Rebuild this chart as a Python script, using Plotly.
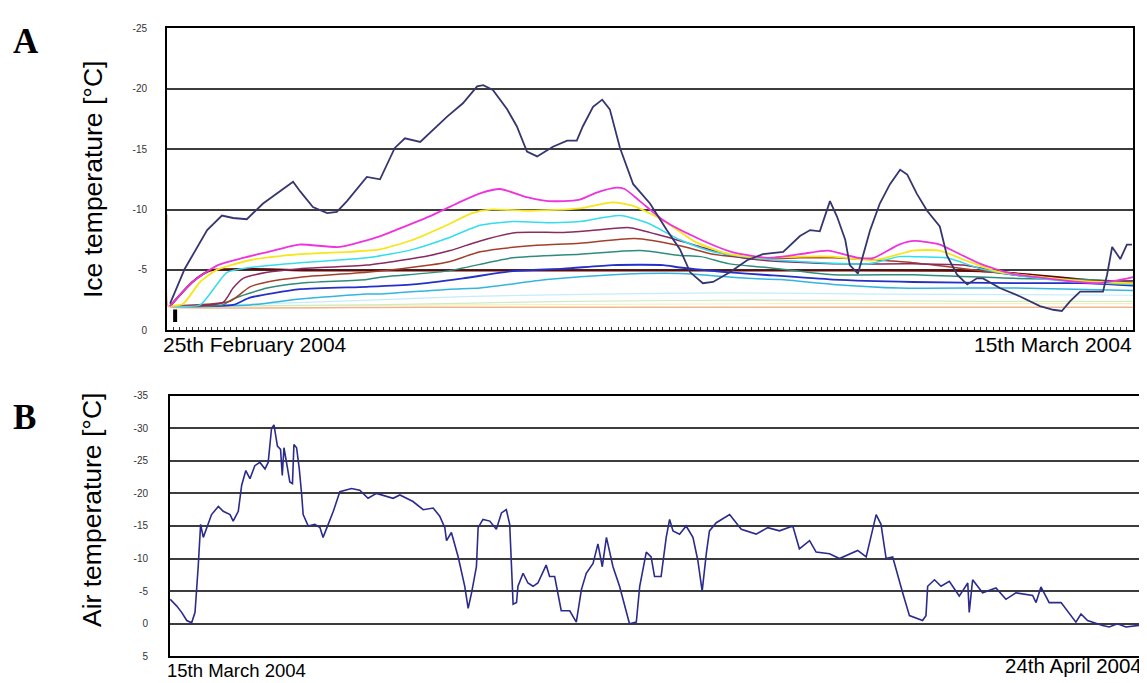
import plotly.graph_objects as go

# ---------------- Panel A: ice temperature (x = days since 25 Feb 2004) ----------------
surface_days = [0.06, 0.35, 0.79, 1.08, 1.30, 1.57, 1.89, 2.22, 2.48, 2.62, 2.87, 3.15, 3.34, 3.54,
                3.93, 4.19, 4.48, 4.68, 4.98, 5.51, 5.82, 6.10, 6.22, 6.41, 6.69, 6.88, 7.08, 7.28,
                7.59, 7.87, 8.06, 8.18, 8.38, 8.56, 8.71, 8.91, 9.17, 9.50, 9.83, 10.09, 10.29,
                10.54, 10.74, 11.07, 11.41, 11.72, 12.12, 12.45, 12.65, 12.84, 13.04, 13.18, 13.34,
                13.43, 13.59, 13.69, 13.83, 14.02, 14.22, 14.42, 14.56, 14.75, 14.95, 15.20, 15.34,
                15.54, 15.74, 15.93, 16.05, 16.38, 16.78, 17.17, 17.43, 17.60, 17.76, 17.96, 18.41,
                18.49, 18.59, 18.75, 18.88, 18.98]
surface_vals = [-2.2, -5.1, -8.3, -9.5, -9.3, -9.2, -10.5, -11.5, -12.3, -11.5, -10.2, -9.7, -9.8, -10.7,
                -12.7, -12.5, -15.1, -15.9, -15.6, -17.7, -18.8, -20.2, -20.3, -19.9, -18.3, -16.9, -14.8,
                -14.4, -15.2, -15.7, -15.7, -16.9, -18.5, -19.1, -18.3, -15.1, -12.1, -10.5, -8.3, -6.7,
                -4.8, -3.9, -4.0, -4.8, -5.8, -6.3, -6.5, -7.8, -8.3, -8.2, -10.7, -9.4, -7.5,
                -5.4, -4.7, -6.2, -8.3, -10.5, -12.1, -13.3, -12.9, -11.3, -9.9, -8.6, -6.2,
                -4.6, -3.8, -4.3, -4.3, -3.5, -2.8, -2.0, -1.7, -1.6, -2.4, -3.2, -3.2,
                -4.6, -6.9, -5.9, -7.1, -7.1]

magenta_days = [0.06, 0.5, 1.0, 1.5, 2.0, 2.6, 3.4, 4.2, 4.5, 5.2, 5.8, 6.2, 6.55, 7.1, 7.5, 8.1, 8.45,
                8.8, 9.0, 9.3, 9.8, 10.5, 11.1, 11.8, 12.45, 13.0, 13.6, 13.9, 14.4, 14.7, 15.2, 15.5,
                16.0, 16.6, 17.3, 18.3, 18.9, 19.0]
magenta_vals = [-2.0, -4.0, -5.4, -6.0, -6.5, -7.1, -6.9, -7.8, -8.3, -9.5, -10.7, -11.4, -11.7, -11.0,
                -10.7, -10.8, -11.4, -11.8, -11.7, -10.7, -9.0, -7.5, -6.5, -6.0, -6.3, -6.6, -6.0, -6.0,
                -7.1, -7.4, -7.1, -6.5, -5.5, -4.7, -4.3, -3.9, -4.3, -4.4]

yellow_days = [0.06, 0.32, 0.65, 0.98, 1.63, 2.62, 3.6, 4.19, 4.84, 5.5, 6.0, 6.35, 7.14, 8.12, 8.77,
               9.17, 9.76, 10.4, 11.07, 11.7, 12.45, 13.1, 13.9, 14.4, 14.67, 15.2, 15.7, 16.3, 17.0,
               18.0, 19.0]
yellow_vals = [-2.0, -2.2, -4.0, -5.0, -5.8, -6.3, -6.5, -6.7, -7.5, -8.7, -9.7, -10.0, -9.9, -10.1,
               -10.6, -10.3, -9.1, -7.3, -6.3, -6.0, -6.1, -6.1, -5.8, -6.3, -6.6, -6.6, -5.8, -4.9,
               -4.5, -4.1, -3.9]

cyan_days = [0.06, 0.65, 0.98, 1.18, 1.63, 2.62, 3.93, 4.84, 5.5, 6.16, 6.8, 7.59, 8.12, 8.91, 9.44,
             10.09, 10.74, 11.72, 12.45, 13.8, 14.4, 14.67, 15.34, 16.0, 16.64, 17.6, 19.0]
cyan_vals = [-2.0, -2.1, -3.8, -4.8, -5.2, -5.6, -6.0, -6.7, -7.6, -8.7, -9.0, -8.9, -9.0, -9.5, -8.9,
             -7.5, -6.5, -5.9, -5.7, -5.5, -6.1, -6.1, -6.0, -5.1, -4.6, -4.1, -3.8]

purple_days = [0.06, 1.1, 1.3, 1.5, 1.97, 2.62, 3.93, 5.17, 5.57, 6.16, 6.88, 7.8, 8.45, 9.1, 9.76,
               10.42, 11.07, 11.72, 13.1, 14.67, 15.66, 16.64, 18.0, 19.0]
purple_vals = [-2.0, -2.3, -3.5, -4.3, -4.8, -5.1, -5.4, -6.2, -6.6, -7.4, -8.1, -8.1, -8.3, -8.5, -7.8,
               -7.0, -6.2, -5.8, -5.5, -5.5, -5.4, -4.6, -4.1, -4.1]

brown_days = [0.06, 1.24, 1.63, 1.97, 2.62, 3.93, 5.17, 5.57, 6.16, 7.14, 8.12, 9.2, 10.09, 10.74,
              11.72, 12.45, 13.1, 14.67, 16.64, 18.0, 19.0]
brown_vals = [-2.0, -2.4, -3.6, -4.0, -4.4, -4.8, -5.4, -5.7, -6.5, -7.0, -7.2, -7.6, -7.0, -6.3,
              -5.9, -6.0, -6.0, -5.6, -4.6, -4.0, -3.8]

teal_days = [0.06, 1.1, 1.3, 1.97, 2.62, 3.93, 4.19, 5.5, 6.8, 8.12, 9.3, 10.09, 10.5, 11.07, 11.8,
             13.1, 14.67, 16.64, 18.0, 19.0]
teal_vals = [-2.0, -2.1, -2.6, -3.5, -3.9, -4.2, -4.4, -4.9, -6.0, -6.3, -6.6, -6.2, -6.1, -5.5, -5.2,
             -4.6, -4.6, -4.3, -4.2, -4.0]

blue_days = [0.06, 1.3, 1.63, 2.62, 3.93, 4.84, 5.82, 6.8, 7.8, 8.77, 9.76, 10.09, 11.07, 11.72,
             13.1, 14.67, 16.64, 18.0, 19.0]
blue_vals = [-2.0, -2.1, -2.7, -3.4, -3.6, -3.8, -4.3, -4.9, -5.1, -5.4, -5.4, -5.2, -4.8, -4.6,
             -4.2, -4.0, -3.9, -3.9, -3.7]

lightblue_days = [0.06, 1.63, 2.62, 3.93, 4.19, 5.57, 6.16, 7.47, 8.77, 10.09, 11.41, 12.06, 13.1,
                  14.4, 16.64, 19.0]
lightblue_vals = [-2.0, -2.1, -2.6, -3.0, -3.0, -3.4, -3.5, -4.2, -4.6, -4.7, -4.3, -4.2, -3.8,
                  -3.5, -3.5, -3.3]

paleblue_days = [0.06, 2.0, 4.0, 6.0, 8.5, 11.0, 14.0, 19.0]
paleblue_vals = [-2.0, -2.2, -2.5, -2.8, -3.0, -3.1, -3.0, -2.9]

palegreen_days = [0.06, 4.0, 8.0, 12.0, 16.0, 19.0]
palegreen_vals = [-2.0, -2.1, -2.4, -2.5, -2.4, -2.4]

paleyellow_days = [0.06, 6.0, 12.0, 19.0]
paleyellow_vals = [-2.0, -2.1, -2.2, -2.2]

orange_days = [0.0, 0.02, 0.1, 5.0, 10.0, 15.0, 19.0]
orange_vals = [-9.6, -2.0, -1.9, -1.9, -1.9, -1.9, -1.9]

maroon_days = [0.06, 0.5, 0.85, 3.0, 8.0, 12.0, 16.0, 17.0, 18.0, 19.0]
maroon_vals = [-2.0, -4.0, -4.95, -4.95, -4.95, -4.95, -4.9, -4.6, -4.2, -3.9]

mark_days = [0.16]
mark_vals = [-1.2]

ice_ticks = [-25, -20, -15, -10, -5, 0]
ice_ticktext = ["-25", "-20", "-15", "-10", "-5", "0"]

# ---------------- Panel B: air temperature (x = days since 15 Mar 2004) ----------------
air_days = [0.01, 0.27, 0.48, 0.69, 0.89, 1.03, 1.16, 1.26, 1.37, 1.51, 1.71, 1.99, 2.19, 2.47, 2.60,
            2.81, 2.95, 3.12, 3.29, 3.49, 3.70, 3.91, 4.04, 4.18, 4.28, 4.42, 4.55, 4.62, 4.69, 4.84,
            4.93, 5.04, 5.10, 5.21, 5.32, 5.42, 5.48, 5.69, 5.96, 6.17, 6.30, 6.51, 6.72, 6.99, 7.47,
            7.81, 8.15, 8.50, 8.91, 9.18, 9.46, 9.59, 10.0, 10.42, 10.83, 11.10, 11.31, 11.38, 11.58,
            11.86, 12.13, 12.27, 12.41, 12.61, 12.68, 12.88, 13.16, 13.43, 13.64, 13.84, 13.98, 14.12,
            14.26, 14.32, 14.53, 14.73, 14.94, 15.14, 15.48, 15.62, 15.83, 16.10, 16.45, 16.72, 16.93,
            17.13, 17.41, 17.61, 17.79, 17.96, 18.23, 18.50, 18.91, 19.19, 19.33, 19.60, 19.80, 19.94,
            20.21, 20.42, 20.56, 20.70, 20.97, 21.24, 21.52, 21.72, 21.90, 22.07, 22.20, 22.48, 23.03,
            23.51, 24.12, 24.60, 25.08, 25.63, 25.90, 26.32, 26.59, 27.14, 27.55, 28.30, 28.65, 29.06,
            29.26, 29.47, 29.74, 30.15, 30.43, 30.97, 31.11, 31.18, 31.46, 31.73, 32.07, 32.48, 32.83,
            32.89, 33.03, 33.44, 33.99, 34.40, 34.81, 35.50, 35.64, 35.84, 36.18, 36.67, 37.28, 37.49,
            37.76, 38.38, 38.65, 38.99, 39.34, 39.88]
air_vals = [-3.75, -2.75, -1.75, -0.5, -0.15, -1.75, -8.75, -15.25, -13.25, -14.75, -16.75, -18, -17.25,
            -16.75, -15.75, -17.25, -21.25, -23.5, -22.25, -24.25, -24.75, -23.75, -24.75, -30, -30.5,
            -27.25, -26.75, -22.75, -27, -23.75, -21.75, -21.5, -27.5, -27, -23.75, -19.75, -16.75, -15,
            -15.25, -14.75, -13.25, -15.25, -17.25, -20.25, -20.75, -20.5, -19.25, -20, -19.5, -19.25,
            -19.75, -19.5, -18.75, -17.5, -17.75, -16.5, -14.75, -12.75, -14, -10.25, -5.75, -2.35,
            -4.75, -8.75, -14.75, -16, -15.75, -14.5, -17, -17.5, -15.25, -3, -3.25, -5.75, -7.75, -6.25,
            -5.75, -6.25, -9, -7.25, -7.25, -2, -2, -0.25, -5.25, -7.75, -9.25, -12.25, -8.75, -13.25,
            -8.75, -5.75, 0, -0.25, -5.75, -11, -10.25, -7.25, -7.25, -13.25, -16, -14.25, -13.75, -15,
            -13.25, -9.75, -5, -10.75, -14.25, -15.5, -16.75, -14.5, -13.75, -14.75, -14.25, -15, -11.5,
            -12.75, -11, -10.75, -10, -11.25, -10.25, -16.75, -15.25, -10, -10.25, -4.75, -1.25, -0.5,
            -1.25, -5.75, -6.75, -5.75, -6.5, -4.25, -6.25, -1.75, -6.75, -4.75, -5.5, -3.75, -4.75,
            -4.35, -3.25, -5.65, -3.25, -3.25, -0.25, -1.5, -0.5, 0.25, 0.5, 0, 0.5, 0.25]

air_ticks = [-35, -30, -25, -20, -15, -10, -5, 0, 5]
air_ticktext = ["-35", "-30", "-25", "-20", "-15", "-10", "-5", "0", "5"]

# ---------------- figure ----------------
# The page body adds an 8 px margin, so the figure is drawn 8 px smaller and
# positions are given in page pixels minus that offset.
OFF = 8
W, H = 1147 - OFF, 683 - OFF


def px_x(px):
    return (px - OFF) / W


def px_y(py):
    return 1 - (py - OFF) / H


fig = go.Figure()

ice_series = [
    (orange_days, orange_vals, "#EDB48E", 1.5),
    (paleyellow_days, paleyellow_vals, "#F6F0B0", 1.2),
    (palegreen_days, palegreen_vals, "#CDEBC4", 1.2),
    (paleblue_days, paleblue_vals, "#C4ECFA", 1.2),
    (lightblue_days, lightblue_vals, "#33B5E0", 1.5),
    (maroon_days, maroon_vals, "#5C0A0A", 2.2),
    (blue_days, blue_vals, "#2530C8", 1.8),
    (teal_days, teal_vals, "#2F8C7A", 1.5),
    (brown_days, brown_vals, "#A3402C", 1.5),
    (purple_days, purple_vals, "#8A2A5E", 1.5),
    (cyan_days, cyan_vals, "#33DDEE", 1.5),
    (yellow_days, yellow_vals, "#F5E61A", 1.8),
    (magenta_days, magenta_vals, "#EE33DD", 1.8),
]
for d, v, c, w in ice_series:
    fig.add_trace(go.Scatter(x=d, y=v, mode="lines", line=dict(color=c, width=w, shape="spline", smoothing=0.6),
                             xaxis="x", yaxis="y", showlegend=False, hoverinfo="skip"))

fig.add_trace(go.Scatter(x=surface_days, y=surface_vals, mode="lines",
                         line=dict(color="#35366F", width=1.8),
                         xaxis="x", yaxis="y", showlegend=False))
fig.add_trace(go.Scatter(x=mark_days, y=mark_vals, mode="markers",
                         marker=dict(symbol="line-ns", size=9, line=dict(width=4, color="black")),
                         xaxis="x", yaxis="y", showlegend=False))

fig.add_trace(go.Scatter(x=air_days, y=air_vals, mode="lines",
                         line=dict(color="#2B2B8E", width=1.6),
                         xaxis="x2", yaxis="y2", showlegend=False))

tickfont = dict(family="Liberation Sans, Arial, sans-serif", size=10, color="#333333")

fig.update_layout(
    width=W, height=H, autosize=False,
    margin=dict(l=0, r=0, t=0, b=0),
    paper_bgcolor="white", plot_bgcolor="white",
    showlegend=False,
    xaxis=dict(domain=[px_x(167), px_x(1133)], range=[0, 19], anchor="y",
               showline=True, mirror=True, linecolor="black", linewidth=2,
               ticks="inside", ticklen=3, tickwidth=1, tickcolor="#333333", tick0=0, dtick=0.125,
               showticklabels=False, showgrid=False, zeroline=False),
    yaxis=dict(domain=[px_y(330), px_y(22.7)], range=[0, -25], anchor="x",
               tickvals=ice_ticks, ticktext=ice_ticktext, tickfont=tickfont, ticklabelstandoff=16,
               showgrid=True, gridcolor="#3C3C3C", gridwidth=2,
               showline=True, mirror=True, linecolor="black", linewidth=2, zeroline=False),
    xaxis2=dict(domain=[px_x(170), px_x(1142)], range=[0, 40], anchor="y2",
                showline=True, mirror=True, linecolor="black", linewidth=2,
                showticklabels=False, showgrid=False, zeroline=False, ticks=""),
    yaxis2=dict(domain=[px_y(662), px_y(396.5)], range=[5, -35], anchor="x2",
                tickvals=air_ticks, ticktext=air_ticktext, tickfont=tickfont, ticklabelstandoff=18,
                showgrid=True, gridcolor="#3C3C3C", gridwidth=2,
                showline=True, mirror=True, linecolor="black", linewidth=2, zeroline=False),
)

sans = "Liberation Sans, Arial, sans-serif"
serif = "Liberation Serif, Times New Roman, serif"
ann = [
    dict(text="<b>A</b>", x=px_x(25.5), y=px_y(36), font=dict(family=serif, size=35, color="black"),
         xanchor="center", yanchor="middle"),
    dict(text="<b>B</b>", x=px_x(24), y=px_y(419), font=dict(family=serif, size=35, color="black"),
         xanchor="center", yanchor="middle"),
    dict(text="Ice temperature [°C]", x=px_x(93), y=px_y(176), textangle=-90,
         font=dict(family=sans, size=26.5, color="black"), xanchor="center", yanchor="middle"),
    dict(text="Air temperature [°C]", x=px_x(92), y=px_y(513), textangle=-90,
         font=dict(family=sans, size=26.5, color="black"), xanchor="center", yanchor="middle"),
    dict(text="25th February 2004", x=px_x(161), y=px_y(344), font=dict(family=sans, size=21, color="black"),
         xanchor="left", yanchor="middle"),
    dict(text="15th March 2004", x=px_x(1134), y=px_y(344), font=dict(family=sans, size=21, color="black"),
         xanchor="right", yanchor="middle"),
    dict(text="15th March 2004", x=px_x(165), y=px_y(676), font=dict(family=sans, size=18.5, color="black"),
         xanchor="left", yanchor="middle"),
    dict(text="24th April 2004", x=px_x(1144), y=px_y(671), font=dict(family=sans, size=20.5, color="black"),
         xanchor="right", yanchor="middle"),
]
for a in ann:
    fig.add_annotation(xref="paper", yref="paper", showarrow=False, **a)

fig.write_html("out.html")
